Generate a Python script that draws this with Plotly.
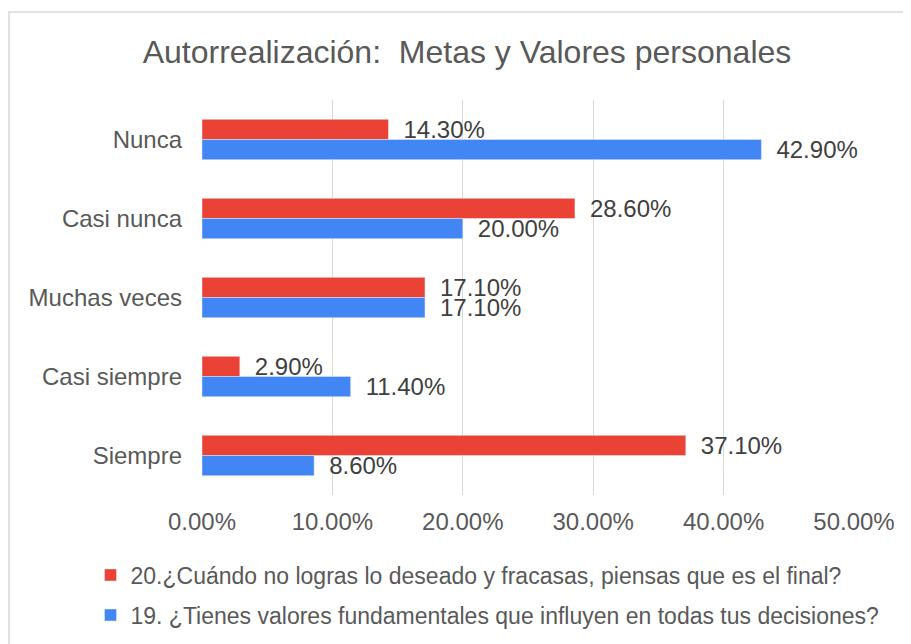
import plotly.graph_objects as go

categories = ["Nunca", "Casi nunca", "Muchas veces", "Casi siempre", "Siempre"]
q20 = [14.3, 28.6, 17.1, 2.9, 37.1]
q19 = [42.9, 20.0, 17.1, 11.4, 8.6]
name20 = "20.¿Cuándo no logras lo deseado y fracasas, piensas que es el final?"
name19 = "19. ¿Tienes valores fundamentales que influyen en todas tus decisiones?"

FONT = "Liberation Sans, Arial, sans-serif"
LABEL = "\u2002%{x:.2f}%"

fig = go.Figure()
fig.add_trace(go.Bar(
    y=categories, x=q20, orientation="h", name=name20,
    marker_color="#EA4335", texttemplate=LABEL, textposition="outside",
    constraintext="none", cliponaxis=False,
    textfont=dict(size=24, color="#404040", family=FONT), legend="legend",
))
fig.add_trace(go.Bar(
    y=categories, x=q19, orientation="h", name=name19,
    marker_color="#4285F4", texttemplate=LABEL, textposition="outside",
    constraintext="none", cliponaxis=False,
    textfont=dict(size=24, color="#404040", family=FONT), legend="legend2",
))

# page body adds an 8px margin, so the figure is 8px smaller than the window
fig.update_layout(
    width=903, height=636, showlegend=True,
    margin=dict(l=194, r=57, t=92, b=149, autoexpand=False),
    paper_bgcolor="white", plot_bgcolor="white",
    font=dict(family=FONT, color="#595959", size=24),
    title=dict(text="Autorrealización:  Metas y Valores personales",
               x=459 / 903, xanchor="center", y=1 - 44 / 636, yanchor="middle",
               font=dict(size=32, color="#595959")),
    barmode="group", bargap=0.49, bargroupgap=0,
    legend=dict(x=-0.171, y=-0.2025, xanchor="left", yanchor="middle",
                font=dict(size=23, color="#595959"), bgcolor="rgba(0,0,0,0)"),
    legend2=dict(x=-0.171, y=-0.304, xanchor="left", yanchor="middle",
                 font=dict(size=23, color="#595959"), bgcolor="rgba(0,0,0,0)"),
    shapes=[dict(type="rect", xref="paper", yref="paper",
                 x0=(9 - 202) / 652, x1=(915 - 202) / 652,
                 y0=(495 - 650) / 395, y1=(495 - 12) / 395,
                 line=dict(color="#d9d9d9", width=1.5), layer="below")],
)
fig.update_xaxes(range=[0, 50], dtick=10, tickformat=".2f", ticksuffix="%",
                 showgrid=True, gridcolor="#d9d9d9", gridwidth=1.3,
                 zeroline=False, showline=False, ticklabelstandoff=10,
                 automargin=False, tickfont=dict(size=24, color="#595959"))
fig.update_yaxes(autorange="reversed", showgrid=False, showline=False,
                 automargin=False, ticklabelstandoff=19,
                 tickfont=dict(size=24, color="#595959"))

fig.write_html("out.html")
